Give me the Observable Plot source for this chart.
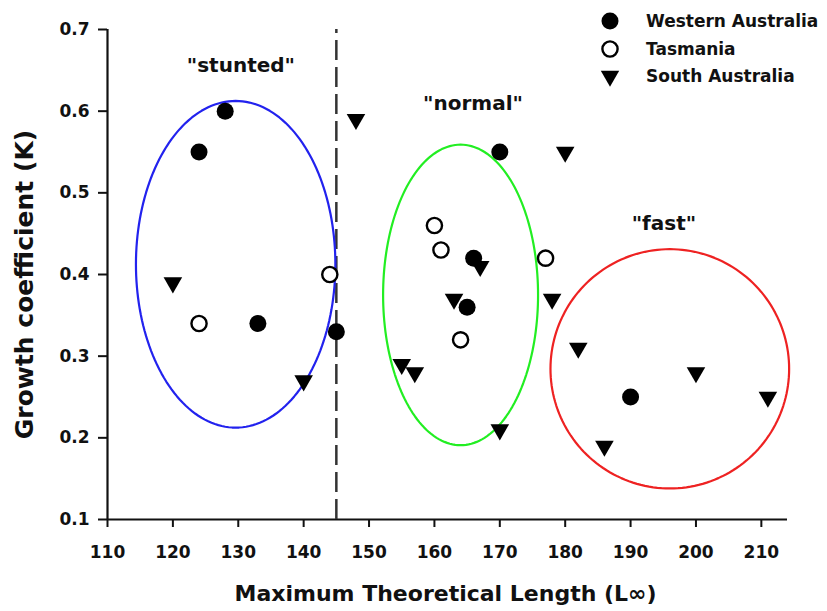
<!DOCTYPE html>
<html>
<head>
<meta charset="utf-8">
<script src="https://cdn.jsdelivr.net/npm/d3@7"></script>
<script src="https://cdn.jsdelivr.net/npm/@observablehq/plot@0.6"></script>
<style>
  body { margin: 0; background: #fff; }
  #wrap { position: relative; width: 827px; height: 611px; font-family: "DejaVu Sans", sans-serif; font-weight: bold; }
  #legend { position: absolute; left: 598px; top: 8px; }
  .row { position: absolute; left: 0; height: 24px; display: flex; align-items: center; white-space: nowrap; font-size: 17px; color: #111; }
  .row svg { width: 24px; height: 24px; }
  .row span { position: absolute; left: 48px; }
</style>
</head>
<body>
<div id="wrap"></div>
<script>
// Western Australia (filled circles)
const waX = [124, 128, 133, 145, 170, 166, 165, 190];
const waY = [0.55, 0.60, 0.34, 0.33, 0.55, 0.42, 0.36, 0.25];
// Tasmania (open circles)
const tasX = [124, 144, 160, 161, 164, 177];
const tasY = [0.34, 0.40, 0.46, 0.43, 0.32, 0.42];
// South Australia (down triangles)
const saX = [120, 140, 148, 180, 167, 163, 155, 157, 170, 178, 182, 186, 200, 211];
const saY = [0.39, 0.27, 0.59, 0.55, 0.41, 0.37, 0.29, 0.28, 0.21, 0.37, 0.31, 0.19, 0.28, 0.25];

// group ellipses
const groupNames = ['"stunted"', '"normal"', '"fast"'];
const groupCx = [129.6, 164.0, 196.0];
const groupCy = [0.4125, 0.375, 0.2845];
const groupRx = [15.25, 11.85, 18.25];
const groupRy = [0.200, 0.184, 0.1465];
const groupColors = ["#2222ee", "#22ee22", "#ee2222"];
const labelX = [130.4, 165.9, 195.1];
const labelY = [0.656, 0.609, 0.462];

const thresholdX = [145];
const xTicks = [110, 120, 130, 140, 150, 160, 170, 180, 190, 200, 210];
const yTicks = [0.1, 0.2, 0.3, 0.4, 0.5, 0.6, 0.7];
const legendNames = ["Western Australia", "Tasmania", "South Australia"];
const xLabel = "Maximum Theoretical Length (L\u221E)";
const yLabel = "Growth coefficient (K)";

const wa = waX.map((x, i) => ({x, y: waY[i]}));
const tas = tasX.map((x, i) => ({x, y: tasY[i]}));
const sa = saX.map((x, i) => ({x, y: saY[i]}));

const angles = d3.range(0, 361, 2).map(a => a * Math.PI / 180);
const ellipseMarks = groupNames.map((g, k) =>
  Plot.line(angles.map(t => ({x: groupCx[k] + groupRx[k] * Math.cos(t), y: groupCy[k] + groupRy[k] * Math.sin(t)})),
    {x: "x", y: "y", stroke: groupColors[k], strokeWidth: 2.2, clip: false})
);
const groupLabels = groupNames.map((g, k) => ({g, x: labelX[k], y: labelY[k]}));

const chart = Plot.plot({
  width: 827,
  height: 611,
  marginLeft: 107,
  marginRight: 40,
  marginTop: 29,
  marginBottom: 92,
  style: {fontFamily: "DejaVu Sans, sans-serif", fontWeight: "bold", fontSize: "17px", color: "#111", background: "white"},
  x: {domain: [110, 214]},
  y: {domain: [0.1, 0.7]},
  marks: [
    Plot.axisX({ticks: xTicks, tickSize: 8, tickPadding: 18, strokeWidth: 2, label: null, fontSize: 17, fontWeight: "bold"}),
    Plot.axisY({ticks: yTicks, tickSize: 9, tickPadding: 9, strokeWidth: 2, label: null, tickFormat: d3.format(".1f"), fontSize: 17, fontWeight: "bold"}),
    Plot.ruleY([0.1], {x1: 110, x2: 214, stroke: "#111", strokeWidth: 2.2}),
    Plot.ruleX([110], {y1: 0.1, y2: 0.7, stroke: "#111", strokeWidth: 2.2}),
    Plot.ruleX(thresholdX, {y1: 0.1, y2: 0.7, stroke: "#333", strokeWidth: 2.5, strokeDasharray: "20,7"}),
    ...ellipseMarks,
    Plot.dot(wa, {x: "x", y: "y", r: 8.5, fill: "black", symbol: "circle"}),
    Plot.dot(tas, {x: "x", y: "y", r: 7.6, fill: "white", stroke: "black", strokeWidth: 2.4, symbol: "circle"}),
    Plot.dot(sa, {x: "x", y: "y", r: 6.9, fill: "black", symbol: "triangle", rotate: 180}),
    Plot.text(groupLabels, {x: "x", y: "y", text: "g", fontSize: 20, fontWeight: "bold", fill: "#111"}),
    Plot.text([xLabel], {frameAnchor: "bottom", dx: -2, dy: 81, fontSize: 22, fontWeight: "bold", fill: "#111"}),
    Plot.text([yLabel], {frameAnchor: "left", textAnchor: "middle", dx: -83, dy: 10, rotate: -90, fontSize: 25, fontWeight: "bold", fill: "#111"})
  ]
});
const wrap = document.getElementById("wrap");
wrap.appendChild(chart);

// legend
const legend = document.createElement("div");
legend.id = "legend";
const icons = [
  '<circle cx="12" cy="12" r="8.5" fill="black"/>',
  '<circle cx="12" cy="12" r="7.6" fill="white" stroke="black" stroke-width="2.4"/>',
  '<path d="M2.8,6.7 L21.2,6.7 L12,22.7 Z" fill="black"/>'
];
const rowTops = [1, 29, 56];
legendNames.forEach((name, i) => {
  const row = document.createElement("div");
  row.className = "row";
  row.style.top = rowTops[i] + "px";
  row.innerHTML = `<svg viewBox="0 0 24 24">${icons[i]}</svg><span>${name}</span>`;
  legend.appendChild(row);
});
wrap.appendChild(legend);
</script>
</body>
</html>
